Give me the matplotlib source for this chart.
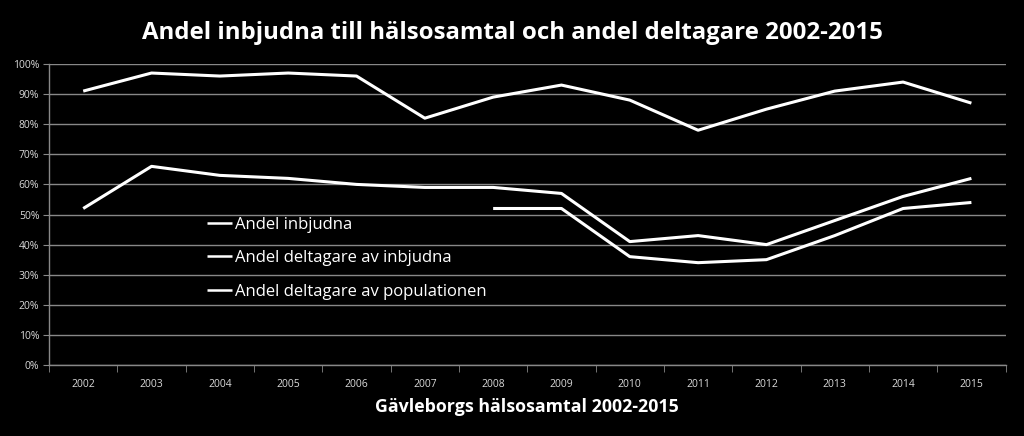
import matplotlib
matplotlib.use("Agg")
import matplotlib.pyplot as plt
import numpy as np
from matplotlib.ticker import PercentFormatter

years = ["2002", "2003", "2004", "2005", "2006", "2007", "2008",
         "2009", "2010", "2011", "2012", "2013", "2014", "2015"]
andel_inbjudna = [91, 97, 96, 97, 96, 82, 89, 93, 88, 78, 85, 91, 94, 87]
deltagare_av_inbjudna = [52, 66, 63, 62, 60, 59, 59, 57, 41, 43, 40, 48, 56, 62]
deltagare_av_populationen = [None, None, None, None, None, None, 52,
                             52, 36, 34, 35, 43, 52, 54]
series_labels = ["Andel inbjudna", "Andel deltagare av inbjudna",
                 "Andel deltagare av populationen"]
title = "Andel inbjudna till hälsosamtal och andel deltagare 2002-2015"
xlabel = "Gävleborgs hälsosamtal 2002-2015"

plt.rcParams['font.family'] = ['Open Sans', 'DejaVu Sans']

fig = plt.figure(figsize=(10.24, 4.36), dpi=100, facecolor="black")
ax = fig.add_axes([0.0479, 0.1628, 0.9341, 0.6904])
ax.set_facecolor("black")

x = np.arange(len(years))
def to_arr(v):
    return np.array([np.nan if a is None else a for a in v], dtype=float)

for vals, lab in zip([andel_inbjudna, deltagare_av_inbjudna, deltagare_av_populationen], series_labels):
    ax.plot(x, to_arr(vals), color="white", lw=2.2, label=lab, solid_capstyle="butt")

ax.set_xlim(-0.5, len(years) - 0.5)
ax.set_ylim(0, 100)
ax.set_yticks(np.arange(0, 101, 10))
ax.yaxis.set_major_formatter(PercentFormatter(decimals=0))
ax.set_xticks(x)
ax.set_xticklabels(years)
ax.set_xticks(np.arange(-0.5, len(years), 1), minor=True)
ax.tick_params(axis="x", which="major", length=0, colors="#d9d9d9", labelsize=7.5, pad=10)
ax.tick_params(axis="x", which="minor", length=5, color="#888888", direction="out")
ax.tick_params(axis="y", length=4, color="#888888", colors="#d9d9d9", labelsize=7.5, pad=3)
ax.grid(axis="y", color="#888888", lw=1)
ax.set_axisbelow(True)
for s in ["top", "right"]:
    ax.spines[s].set_visible(False)
for s in ["left", "bottom"]:
    ax.spines[s].set_color("#888888")
    ax.spines[s].set_linewidth(1)

leg = ax.legend(loc="upper left", bbox_to_anchor=(0.158, 0.515), frameon=False,
                fontsize=12, labelcolor="white", handlelength=1.5,
                handletextpad=0.2, labelspacing=1.05, borderaxespad=0)
for h in leg.get_lines():
    h.set_linewidth(1.8)

fig.text(0.5, 0.925, title, ha="center", va="center", color="white",
         fontsize=17.3, fontweight="bold")
fig.text(0.515, 0.067, xlabel, ha="center", va="center", color="white",
         fontsize=12.8, fontweight="bold")

fig.savefig("out.png", dpi=100, facecolor="black")
